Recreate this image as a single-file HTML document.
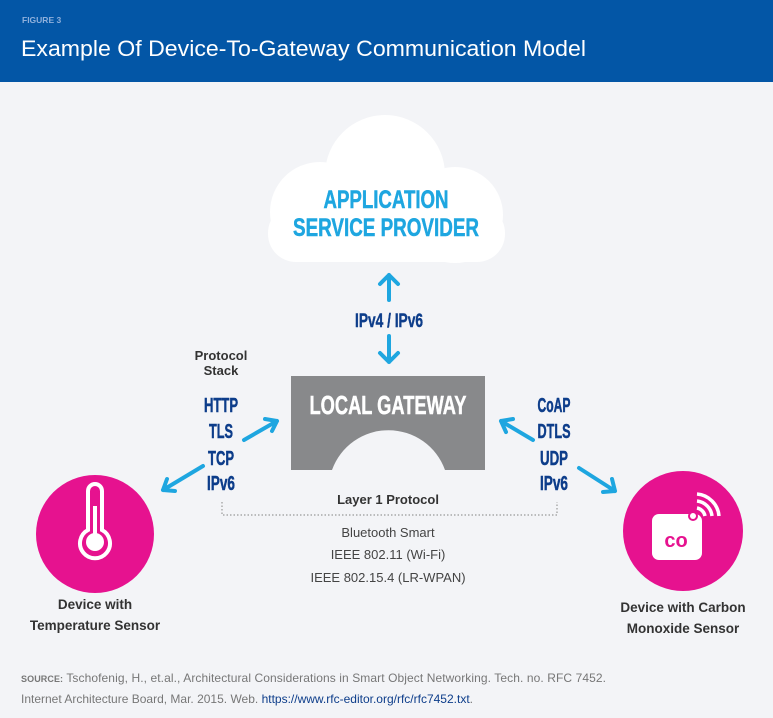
<!DOCTYPE html>
<html><head><meta charset="utf-8"><style>
html,body{margin:0;padding:0;background:#f3f4f7;}
svg{display:block;}
.c{font-family:"Liberation Sans",sans-serif;}
</style></head><body>
<svg width="773" height="718" viewBox="0 0 773 718" xmlns="http://www.w3.org/2000/svg" class="c">
<rect width="773" height="718" fill="#f3f4f7"/>
<rect width="773" height="82" fill="#0356a6"/>
<text x="22" y="23" font-size="8.5" font-weight="bold" fill="#8fb0dc">FIGURE 3</text>
<text x="21" y="56" font-size="22.5" fill="#fff" textLength="565" lengthAdjust="spacingAndGlyphs">Example Of Device-To-Gateway Communication Model</text>

<!-- cloud -->
<g fill="#fff">
<circle cx="385" cy="175" r="60"/>
<circle cx="320" cy="212" r="50"/>
<circle cx="455" cy="215" r="48"/>
<rect x="300" y="200" width="170" height="62" rx="20"/>
<rect x="268" y="205" width="237" height="57" rx="28"/>
</g>
<g font-weight="bold" fill="#1ea6e0" text-anchor="middle" font-size="25" stroke="#1ea6e0" stroke-width="0.5">
<text x="386" y="208" textLength="125" lengthAdjust="spacingAndGlyphs">APPLICATION</text>
<text x="386" y="236" textLength="186" lengthAdjust="spacingAndGlyphs">SERVICE PROVIDER</text>
</g>

<g stroke="#1ea6e0" stroke-width="4" fill="none" stroke-linecap="round" stroke-linejoin="round">
<path d="M389 300 V275 M380 284 L389 275 L398 284"/>
<path d="M389 336 V362 M380 353 L389 362 L398 353"/>
<path d="M244 440 L277 421 M265 419 L277 421 L272 431"/>
<path d="M203 466 L163 490 M167 479 L163 490 L175 491"/>
<path d="M533 440 L501 421 M513 419 L501 421 L506 432"/>
<path d="M579 468 L615 491 M612 479 L615 491 L603 492"/>
</g>
<text x="389" y="327" font-size="19" font-weight="bold" fill="#0d3d8a" stroke="#0d3d8a" stroke-width="0.4" text-anchor="middle" textLength="68" lengthAdjust="spacingAndGlyphs">IPv4 / IPv6</text>

<path d="M291 376 H485 V470 H445 A60 60 0 0 0 332 470 H291 Z" fill="#88898b"/>
<text x="388" y="414" font-size="26" font-weight="bold" fill="#fff" stroke="#fff" stroke-width="0.5" text-anchor="middle" textLength="157" lengthAdjust="spacingAndGlyphs">LOCAL GATEWAY</text>

<g font-size="13" font-weight="bold" fill="#333" text-anchor="middle">
<text x="221" y="360">Protocol</text>
<text x="221" y="375">Stack</text>
<text x="388" y="504">Layer 1 Protocol</text>
</g>
<g font-size="20" font-weight="bold" fill="#0d3d8a" stroke="#0d3d8a" stroke-width="0.5" text-anchor="middle">
<text x="221" y="412" textLength="34" lengthAdjust="spacingAndGlyphs">HTTP</text>
<text x="221" y="438" textLength="24" lengthAdjust="spacingAndGlyphs">TLS</text>
<text x="221" y="465" textLength="26" lengthAdjust="spacingAndGlyphs">TCP</text>
<text x="221" y="490" textLength="28" lengthAdjust="spacingAndGlyphs">IPv6</text>
<text x="554" y="412" textLength="33" lengthAdjust="spacingAndGlyphs">CoAP</text>
<text x="554" y="438" textLength="33" lengthAdjust="spacingAndGlyphs">DTLS</text>
<text x="554" y="465" textLength="28" lengthAdjust="spacingAndGlyphs">UDP</text>
<text x="554" y="490" textLength="28" lengthAdjust="spacingAndGlyphs">IPv6</text>
</g>
<path d="M222 502 V515 H557 V502" fill="none" stroke="#999" stroke-width="1.2" stroke-dasharray="1.5 2"/>
<g font-size="13" fill="#444" text-anchor="middle">
<text x="388" y="537">Bluetooth Smart</text>
<text x="388" y="559">IEEE 802.11 (Wi-Fi)</text>
<text x="388" y="582">IEEE 802.15.4 (LR-WPAN)</text>
</g>

<circle cx="95" cy="534" r="59" fill="#e6128f"/>
<g fill="none" stroke="#fff" stroke-width="4">
<path d="M88 530 V491 A7 7 0 0 1 102 491 V530 A15 15 0 1 1 88 530 Z"/>
</g>
<circle cx="95" cy="542" r="9" fill="#fff"/>
<rect x="93" y="506" width="4" height="30" fill="#fff"/>

<circle cx="683" cy="531" r="60" fill="#e6128f"/>
<rect x="652" y="514" width="50" height="46" rx="7" fill="#fff"/>
<circle cx="693" cy="516" r="5" fill="#e6128f"/>
<circle cx="693" cy="516" r="3" fill="#fff"/>
<text x="676" y="547" font-size="20" font-weight="bold" fill="#e6128f" text-anchor="middle">co</text>
<g fill="none" stroke="#fff" stroke-width="3.5">
<path d="M697 508 A10 10 0 0 1 705 516"/>
<path d="M697 501 A17 17 0 0 1 712 516"/>
<path d="M697 494 A24 24 0 0 1 719 516"/>
</g>
<g font-size="13.5" font-weight="bold" fill="#333" text-anchor="middle">
<text x="95" y="609">Device with</text>
<text x="95" y="630">Temperature Sensor</text>
<text x="683" y="612">Device with Carbon</text>
<text x="683" y="633">Monoxide Sensor</text>
</g>

<g font-size="12" fill="#777">
<text x="21" y="682" textLength="585" lengthAdjust="spacing"><tspan font-size="9" font-weight="bold">SOURCE:</tspan> Tschofenig, H., et.al., Architectural Considerations in Smart Object Networking. Tech. no. RFC 7452.</text>
<text x="21" y="703">Internet Architecture Board, Mar. 2015. Web. <tspan fill="#0d3d8a">https://www.rfc-editor.org/rfc/rfc7452.txt</tspan>.</text>
</g>
</svg>
</body></html>
